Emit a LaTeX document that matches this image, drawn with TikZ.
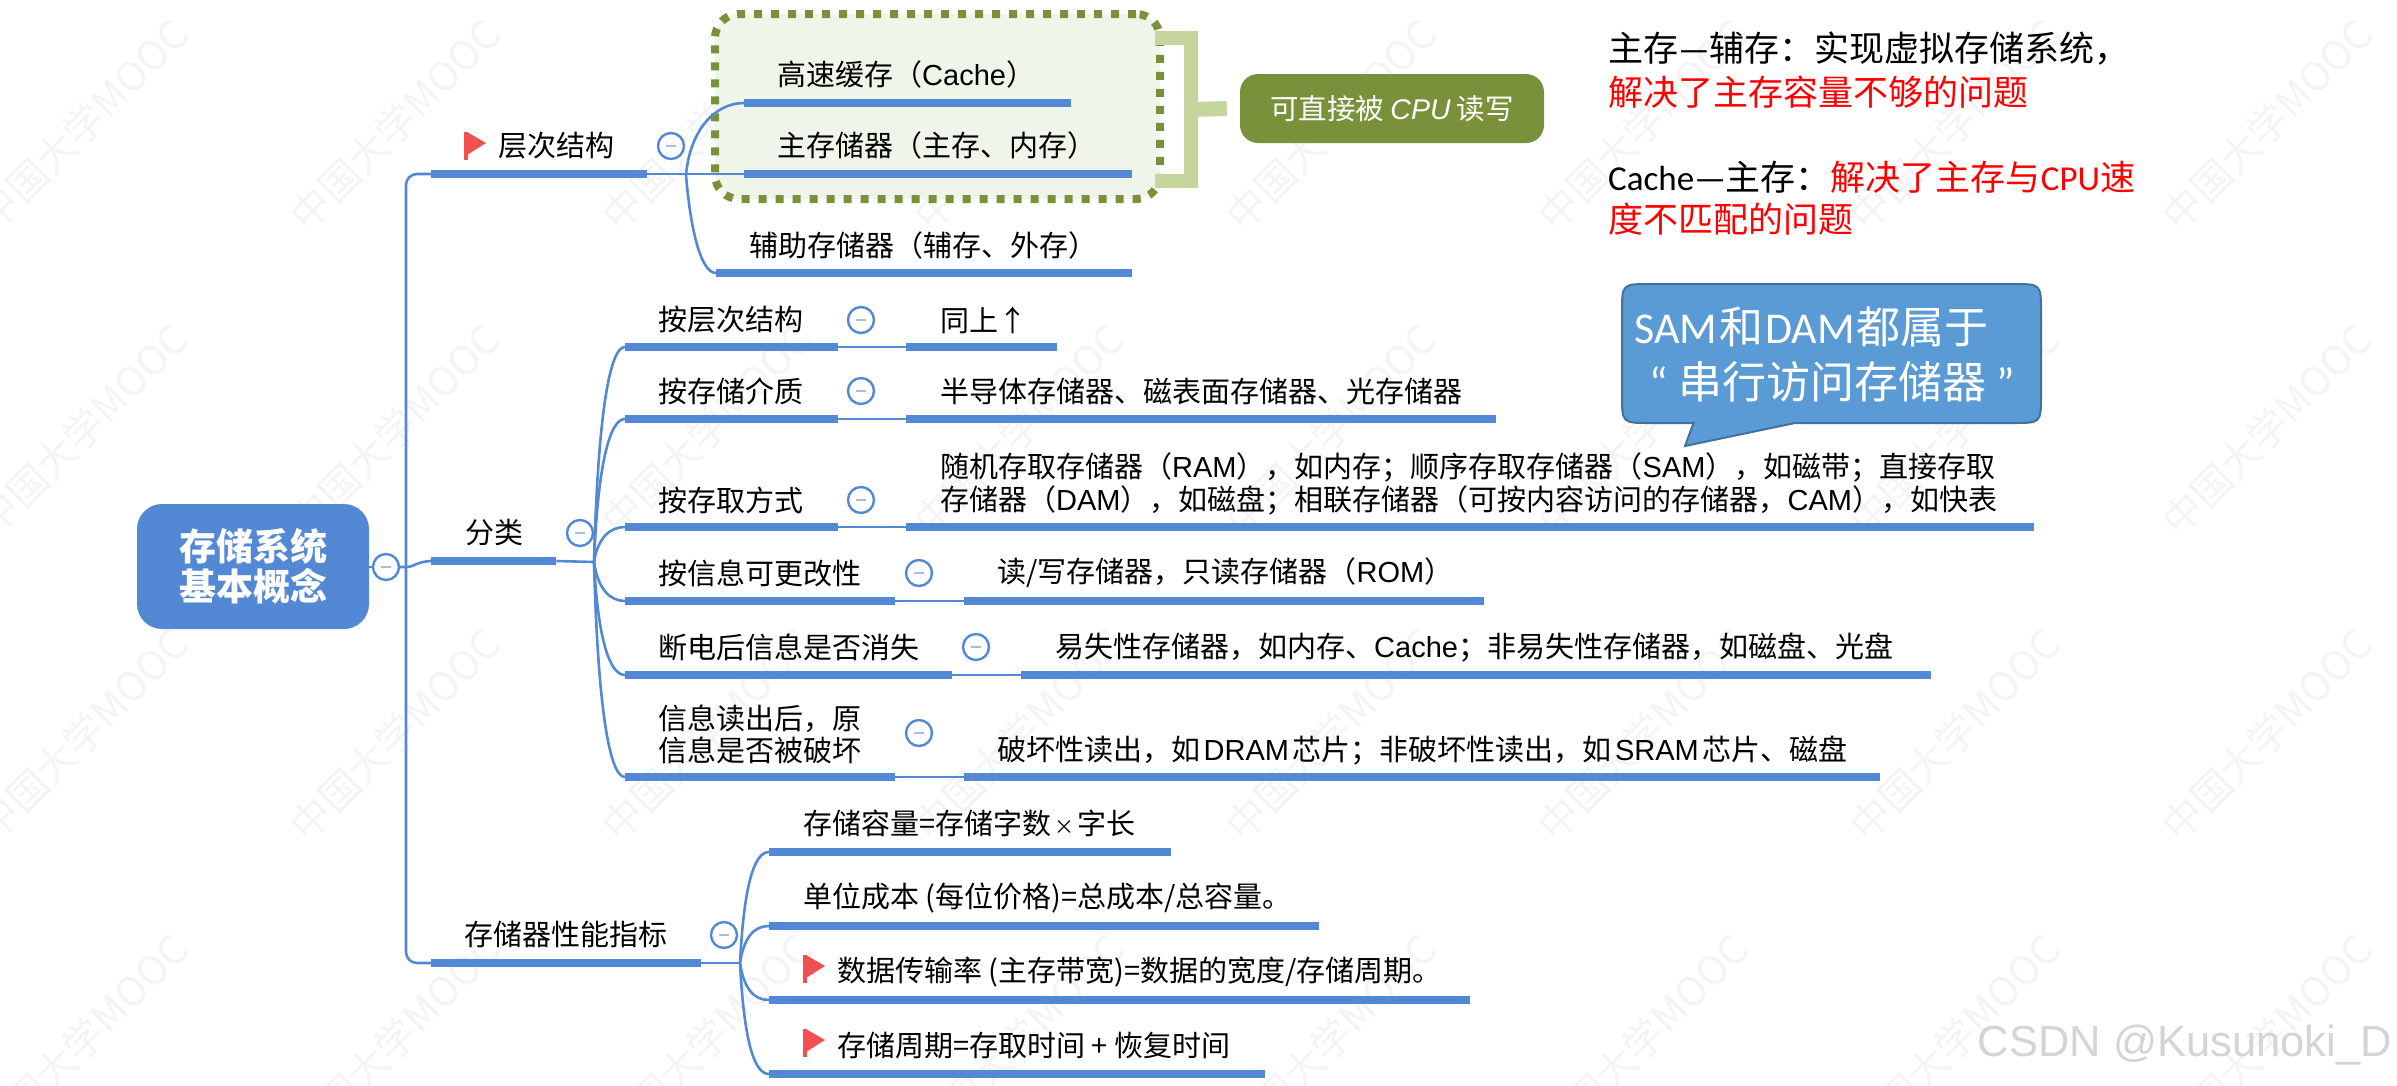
\documentclass[tikz,border=0pt]{standalone}
\usepackage{fontspec}
\setmainfont{Noto Sans CJK SC}
\newfontfamily\lat{Liberation Sans}
\newfontfamily\carl{Carlito}
\pgfdeclarelayer{wm}\pgfdeclarelayer{bg}\pgfsetlayers{wm,bg,main}
\definecolor{mapblue}{HTML}{5389D4}
\definecolor{grpfill}{HTML}{F0F5E9}
\definecolor{olive}{HTML}{7A913C}
\definecolor{brk}{HTML}{C4D59E}
\definecolor{flagred}{HTML}{F05050}
\definecolor{calfill}{HTML}{5B9BD5}
\definecolor{calline}{HTML}{41719C}
\definecolor{wmgray}{HTML}{F4F4F4}
\definecolor{csdn}{HTML}{D4D4D4}
\tikzset{
  x=1pt,y=-1pt,
  barnode/.style={anchor=west,fill=mapblue,inner sep=0pt,minimum height=8.5pt},
  link/.style={draw=mapblue,line width=2.6pt},
  tog/.style={circle,draw=mapblue,line width=2.4pt,fill=white,inner sep=0pt,minimum size=26pt,
    path picture={\draw[color=black!10!mapblue!50!white,line width=2.4pt] ([xshift=-5pt]path picture bounding box.center) -- ([xshift=5pt]path picture bounding box.center);}},
  txt/.style={anchor=west,inner sep=0pt,align=left,font=\fontsize{29}{33}\selectfont},
  note/.style={anchor=west,inner sep=0pt,font=\fontsize{35}{40}\selectfont},
  wmark/.style={rotate=45,text=wmgray,inner sep=0pt,font=\fontsize{40}{40}\selectfont},
}
\newcommand{\flagat}[2]{%
  \fill[flagred] (#1,#2) rectangle (#1+3.5,#2+28);
  \fill[flagred] (#1+3,#2) -- (#1+22,#2+11) -- (#1+3,#2+23) -- cycle;}
\begin{document}
\begin{tikzpicture}
\useasboundingbox (0,0) rectangle (2397,1085);
% watermark and group area
\begin{pgfonlayer}{wm}
\foreach \cx in {-4,308,620,932,1244,1556,1868,2180}
  \foreach \cy in {212,517,822,1127}
    \node[wmark] (wm\cx\cy) at (\cx+87,\cy-87) {中国大学MOOC};
\node[rounded corners=24pt,fill=grpfill,draw=olive,line width=8pt,dash pattern=on 8pt off 9pt,minimum width=445pt,minimum height=185pt,inner sep=0pt] (grp) at (937.5,106.5) {};
\end{pgfonlayer}
% root
\node[fill=mapblue,rounded corners=25pt,minimum width=232pt,minimum height=125pt,inner sep=0pt,text=white,align=center,font=\fontsize{37}{40}\selectfont\bfseries] (root) at (253,566.5) {存储系统\\基本概念};
\node[tog] (c0) at (386,567) {};
\coordinate (j0) at (406,567);
% level 1
\node[barnode,minimum width=216pt] (h) at (431,174) {};
\node[barnode,minimum width=125pt] (f) at (431,561) {};
\node[barnode,minimum width=270pt] (p) at (431,963) {};
\node[txt] (ht) at (498,146) {层次结构};
\flagat{464}{132}
\node[txt] (ft) at (465,533) {分类};
\node[txt] (pt) at (464,934) {存储器性能指标};
\node[tog] (ch) at (671,146) {};
\node[tog] (cf) at (580,533) {};
\node[tog] (cp) at (724,935) {};
% hierarchy children
\node[barnode,minimum width=327pt] (h1) at (744,103) {};
\node[barnode,minimum width=388pt] (h2) at (744,174) {};
\node[barnode,minimum width=416pt] (h3) at (716,273) {};
\node[txt] (h1t) at (777,74) {高速缓存（{\lat Cache}）};
\node[txt] (h2t) at (777,145) {主存储器（主存、内存）};
\node[txt] (h3t) at (749,245) {辅助存储器（辅存、外存）};
\coordinate (jh) at (686,175);
% bracket and label
\node[fill=olive,rounded corners=18pt,minimum width=304pt,minimum height=69pt,inner sep=0pt,text=white,font=\fontsize{28.5}{32}\selectfont] (lab) at (1392,108.5) {可直接被 {\lat\itshape CPU} 读写};
% classification rows
\coordinate (jf) at (594,562);
\node[barnode,minimum width=213pt] (r1) at (625,347) {};
\node[barnode,minimum width=213pt] (r2) at (625,419) {};
\node[barnode,minimum width=213pt] (r3) at (625,527) {};
\node[barnode,minimum width=270pt] (r4) at (625,601) {};
\node[barnode,minimum width=327pt] (r5) at (625,675) {};
\node[barnode,minimum width=270pt] (r6) at (625,777) {};
\node[txt] at (658,320) {按层次结构};
\node[txt] at (658,391) {按存储介质};
\node[txt] at (658,500) {按存取方式};
\node[txt] at (658,573) {按信息可更改性};
\node[txt] at (658,647) {断电后信息是否消失};
\node[txt,font=\fontsize{29}{32}\selectfont] at (658,734) {信息读出后，原\\信息是否被破坏};
\node[tog] (t1) at (861,320) {};
\node[tog] (t2) at (861,391) {};
\node[tog] (t3) at (861,500) {};
\node[tog] (t4) at (919,573) {};
\node[tog] (t5) at (976,647) {};
\node[tog] (t6) at (919,733) {};
\node[barnode,minimum width=151pt] (s1) at (906,347) {};
\node[barnode,minimum width=590pt] (s2) at (906,419) {};
\node[barnode,minimum width=1128pt] (s3) at (906,527) {};
\node[barnode,minimum width=520pt] (s4) at (964,601) {};
\node[barnode,minimum width=910pt] (s5) at (1021,675) {};
\node[barnode,minimum width=916pt] (s6) at (964,777) {};
\node[txt] at (940,320) {同上↑};
\node[txt] at (940,391) {半导体存储器、磁表面存储器、光存储器};
\node[txt,font=\fontsize{29}{33.5}\selectfont] at (940,484) {随机存取存储器（{\lat RAM}），如内存；顺序存取存储器（{\lat SAM}），如磁带；直接存取\\存储器（{\lat DAM}），如磁盘；相联存储器（可按内容访问的存储器，{\lat CAM}），如快表};
\node[txt] at (997,573) {读/写存储器，只读存储器（{\lat ROM}）};
\node[txt] at (1055,647) {易失性存储器，如内存、{\lat Cache}；非易失性存储器，如磁盘、光盘};
\node[txt] at (997,750) {破坏性读出，如\hspace{3.5pt}{\lat DRAM}\hspace{3.5pt}芯片；非破坏性读出，如\hspace{3.5pt}{\lat SRAM}\hspace{3.5pt}芯片、磁盘};
% performance children
\coordinate (jp) at (740,963);
\node[barnode,minimum width=402pt] (q1) at (769,852) {};
\node[barnode,minimum width=550pt] (q2) at (769,926) {};
\node[barnode,minimum width=701pt] (q3) at (769,1000) {};
\node[barnode,minimum width=496pt] (q4) at (769,1074) {};
\node[txt] at (803,823) {存储容量=存储字数\hspace{3pt}{\fontsize{20}{20}\selectfont ×}\hspace{3pt}字长};
\node[txt] at (803,898) {单位成本 (每位价格)=总成本/总容量。};
\flagat{803}{955}
\node[txt] at (837,972) {数据传输率 (主存带宽)=数据的宽度/存储周期。};
\flagat{803}{1029}
\node[txt] at (837,1046) {存储周期=存取时间 + 恢复时间};
% notes
\node[note] at (1608,49) {主存{\carl —}辅存：实现虚拟存储系统，};
\node[note,text=red] at (1608,92) {解决了主存容量不够的问题};
\node[note] at (1608,177) {{\carl Cache—}主存：\textcolor{red}{解决了主存与{\carl CPU}速}};
\node[note,text=red] at (1608,219) {度不匹配的问题};
% callout
\draw[fill=calfill,draw=calline,line width=2pt] (1650,284) -- (2013,284) .. controls (2041,284) .. (2041,312) -- (2041,395) .. controls (2041,423) .. (2013,423) -- (1795,423) -- (1685,446) -- (1693.5,423) -- (1650,423) .. controls (1622,423) .. (1622,395) -- (1622,312) .. controls (1622,284) .. (1650,284) -- cycle;
\node[anchor=west,inner sep=0pt,text=white,font=\fontsize{44}{48}\selectfont] (c1) at (1634,327) {{\carl SAM}\hspace{2pt}和\hspace{2pt}{\carl DAM}\hspace{2pt}都属于};
\node[anchor=center,inner sep=0pt,text=white,font=\fontsize{44}{48}\selectfont] (c2) at (1832,382) {{\carl “}\hspace{10pt}串行访问存储器\hspace{10pt}{\carl ”}};
% csdn
\node[anchor=east,inner sep=0pt,text=csdn,font=\lat\fontsize{43.5}{50}\selectfont] (cs) at (2392,1045) {CSDN @Kusunoki\_D};
% links
\begin{pgfonlayer}{bg}
\draw[draw=brk,line width=14pt] (1155,38) -| (1191,181) -- (1155,181);
\draw[draw=brk,line width=15pt] (1191,109.5) -- ([xshift=-13pt]lab.west);
\draw[link] (root.east |- c0) -- (c0);
\draw[link] (c0) -- (j0) .. controls (415,567) and (415,562) .. (f.west);
\draw[link,rounded corners=11pt] (h.west) -| (j0) |- (p.west);
\draw[link] (h.east) -- (h2.west);
\draw[link] (jh) .. controls (690,130) and (715,103) .. (h1.west);
\draw[link] (jh) .. controls (690,225) and (700,273) .. (h3.west);
\draw[link] (f.east) -- (jf);
\foreach \n/\yy in {r1/347,r2/419,r3/527,r4/601,r5/675,r6/777}
  \draw[link] (jf) .. controls (598,{562+0.7*(\yy-562)}) and (610,\yy) .. (\n.west);
\draw[link] (r1.east) -- (s1.west);
\draw[link] (r2.east) -- (s2.west);
\draw[link] (r3.east) -- (s3.west);
\draw[link] (r4.east) -- (s4.west);
\draw[link] (r5.east) -- (s5.west);
\draw[link] (r6.east) -- (s6.west);
\draw[link] (p.east) -- (jp);
\foreach \n/\yy in {q1/852,q2/926,q3/1000,q4/1074}
  \draw[link] (jp) .. controls (744,{963+0.7*(\yy-963)}) and (754,\yy) .. (\n.west);
\end{pgfonlayer}
\end{tikzpicture}
\end{document}
